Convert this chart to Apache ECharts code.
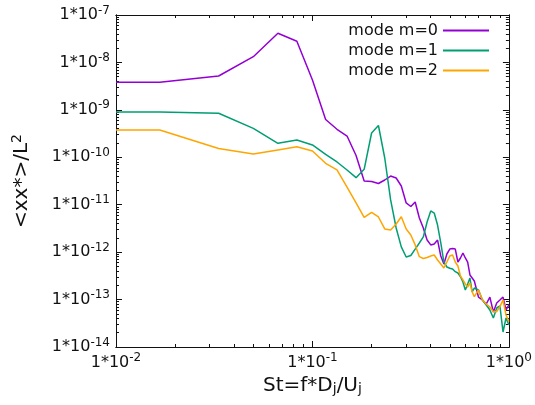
<!DOCTYPE html>
<html>
<head>
<meta charset="utf-8">
<script src="https://cdn.jsdelivr.net/npm/echarts@6/dist/echarts.min.js"></script>
<style>
  html, body { margin: 0; padding: 0; background: #fff; }
  #chart { width: 535px; height: 405px; }
</style>
</head>
<body>
<div id="chart"></div>
<script>
// Strouhal number (x) and spectra of the three azimuthal modes
const st = [0.01, 0.0167, 0.0333, 0.05, 0.0667, 0.0833, 0.1, 0.1167, 0.1333, 0.15, 0.1667,
  0.1833, 0.2, 0.2167, 0.2333, 0.25, 0.2667, 0.2833, 0.3, 0.3167, 0.3333,
  0.35, 0.3667, 0.3833, 0.4, 0.4167, 0.4333, 0.45, 0.4667, 0.4833, 0.5,
  0.5167, 0.5333, 0.55, 0.5667, 0.5833, 0.6, 0.6167, 0.6333, 0.65, 0.6667,
  0.7, 0.7333, 0.7667, 0.8, 0.8333, 0.8667, 0.9, 0.9333, 0.9667, 1.0];

const mode0 = [3.81e-9, 3.81e-9, 5.18e-9, 1.32e-8, 4.11e-8, 2.79e-8, 4.27e-9, 6.26e-10, 3.89e-10, 2.81e-10, 1.09e-10,
  3.16e-11, 3.09e-11, 2.80e-11, 3.32e-11, 4.03e-11, 3.66e-11, 2.48e-11, 1.09e-11, 9.17e-12, 1.14e-11,
  5.25e-12, 3.23e-12, 1.80e-12, 1.42e-12, 1.49e-12, 1.80e-12, 8.30e-13, 5.62e-13, 9.14e-13, 1.16e-12,
  1.19e-12, 1.16e-12, 6.19e-13, 7.53e-13, 9.59e-13, 7.53e-13, 6.19e-13, 3.30e-13, 2.85e-13, 2.47e-13,
  1.13e-13, 9.8e-14, 8.07e-14, 1.13e-13, 5.47e-14, 8.47e-14, 9.8e-14, 1.13e-13, 6.03e-14, 7.69e-14];

const mode1 = [9.01e-10, 9.01e-10, 8.46e-10, 4.08e-10, 1.97e-10, 2.32e-10, 1.82e-10, 1.15e-10, 7.96e-11, 5.40e-11, 3.72e-11,
  5.58e-11, 3.25e-10, 4.68e-10, 9.66e-11, 1.26e-11, 3.23e-12, 1.29e-12, 7.91e-13, 8.49e-13, 1.16e-12,
  1.56e-12, 2.09e-12, 4.33e-12, 7.38e-12, 6.68e-12, 3.73e-12, 1.56e-12, 6.19e-13, 4.86e-13, 4.57e-13,
  4.42e-13, 3.87e-13, 3.63e-13, 3.03e-13, 2.35e-13, 1.59e-13, 2.13e-13, 2.85e-13, 1.45e-13, 1.75e-13,
  1.59e-13, 9.8e-14, 7.69e-14, 6.03e-14, 4.09e-14, 6.64e-14, 7.32e-14, 2.07e-14, 4.09e-14, 2.91e-14];

const mode2 = [3.76e-10, 3.76e-10, 1.53e-10, 1.17e-10, 1.43e-10, 1.67e-10, 1.36e-10, 7.46e-11, 5.40e-11, 2.36e-11, 1.09e-11,
  5.38e-12, 6.92e-12, 5.51e-12, 3.08e-12, 2.93e-12, 3.92e-12, 5.59e-12, 3.08e-12, 2.30e-12, 1.42e-12,
  8.02e-13, 7.35e-13, 7.71e-13, 8.30e-13, 8.71e-13, 6.83e-13, 5.62e-13, 4.63e-13, 6.19e-13, 8.30e-13,
  8.71e-13, 6.19e-13, 5.11e-13, 3.14e-13, 2.59e-13, 2.13e-13, 1.84e-13, 2.24e-13, 1.45e-13, 1.15e-13,
  1.59e-13, 9.8e-14, 8.07e-14, 6.98e-14, 5.55e-14, 5.55e-14, 7.08e-14, 9.8e-14, 4.73e-14, 3.42e-14];

const seriesNames = ['mode m=0', 'mode m=1', 'mode m=2'];
const xTicks = [0.01, 0.1, 1];
const yTicks = [1e-14, 1e-13, 1e-12, 1e-11, 1e-10, 1e-9, 1e-8, 1e-7];

const colors = ['#9400d3', '#009e73', '#ffa500'];
const font = 'DejaVu Sans';

// minor log ticks at 2..9 inside each decade
function minorTicks(majors) {
  var out = [];
  for (var i = 0; i < majors.length - 1; i++) {
    for (var m = 2; m <= 9; m++) out.push(+(majors[i] * m).toPrecision(3));
  }
  return out;
}

function expLabel(v) {
  var e = Math.round(Math.log10(v));
  return '{b|1*10}{sup|' + e + '}';
}

const labelRich = {
  b: { fontSize: 16, fontFamily: font, color: '#111' },
  sup: { fontSize: 12, fontFamily: font, color: '#111', padding: [0, 0, 9, 0] }
};

function makeAxis(kind, pos, ticks, len, withLabel, extent) {
  var ax = {
    type: 'log',
    logBase: 10,
    min: extent[0],
    max: extent[1],
    position: pos,
    axisLine: { show: true, onZero: false, lineStyle: { color: '#111', width: 1 } },
    axisTick: { show: true, inside: true, length: len, customValues: ticks, lineStyle: { color: '#111', width: 1 } },
    axisLabel: { show: false },
    splitLine: { show: false },
    minorTick: { show: false }
  };
  if (withLabel) {
    ax.axisLabel = {
      show: true,
      customValues: ticks,
      formatter: expLabel,
      rich: labelRich,
      margin: kind === 'x' ? 5 : 6
    };
  }
  return ax;
}

const chart = echarts.init(document.getElementById('chart'));
const xExt = [0.01, 1];
const yExt = [1e-14, 1e-7];
const xMinor = minorTicks(xTicks);
const yMinor = minorTicks(yTicks);

const xAxes = [
  makeAxis('x', 'bottom', xTicks, 6, true, xExt),
  makeAxis('x', 'bottom', xMinor, 3, false, xExt),
  makeAxis('x', 'top', xTicks, 6, false, xExt),
  makeAxis('x', 'top', xMinor, 3, false, xExt)
];
xAxes[0].name = 'St=f*D{sub|j}/U{sub|j}';
xAxes[0].nameLocation = 'middle';
xAxes[0].nameGap = 24;
xAxes[0].nameTextStyle = {
  fontSize: 20, fontFamily: font, color: '#111',
  rich: {
    sub: { fontSize: 14, fontFamily: font, color: '#111', padding: [8, 0, 0, 0] }
  }
};

const yAxes = [
  makeAxis('y', 'left', yTicks, 6, true, yExt),
  makeAxis('y', 'left', yMinor, 3, false, yExt),
  makeAxis('y', 'right', yTicks, 6, false, yExt),
  makeAxis('y', 'right', yMinor, 3, false, yExt)
];
yAxes[0].name = '<xx*>/L{sup|2}';
yAxes[0].nameLocation = 'middle';
yAxes[0].nameRotate = 90;
yAxes[0].nameGap = 82;
yAxes[0].nameTextStyle = {
  fontSize: 20, fontFamily: font, color: '#111',
  rich: {
    sup: { fontSize: 14, fontFamily: font, color: '#111', padding: [0, 0, 10, 0] }
  }
};

const modes = [mode0, mode1, mode2];

chart.setOption({
  animation: false,
  backgroundColor: '#fff',
  grid: { left: 116, right: 25, top: 15, bottom: 58 },
  legend: {
    orient: 'vertical',
    align: 'right',
    right: 41,
    top: 17,
    itemGap: 3,
    itemWidth: 46,
    itemHeight: 2,
    icon: 'rect',
    textStyle: { fontSize: 16, fontFamily: font, color: '#111', lineHeight: 17 },
    data: seriesNames
  },
  xAxis: xAxes,
  yAxis: yAxes,
  series: modes.map(function (vals, i) {
    return {
      name: seriesNames[i],
      type: 'line',
      xAxisIndex: 0,
      yAxisIndex: 0,
      showSymbol: false,
      clip: true,
      color: colors[i],
      lineStyle: { width: 1.5, color: colors[i] },
      data: st.map(function (x, j) { return [x, vals[j]]; })
    };
  })
});
</script>
</body>
</html>
